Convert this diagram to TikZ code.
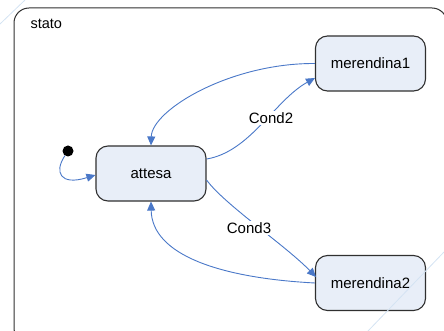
\documentclass[tikz,border=0pt]{standalone}
\usepackage{fontspec}
\setmainfont{Liberation Sans}
\usetikzlibrary{arrows.meta}
\definecolor{edgeblue}{HTML}{4A78C8}
\definecolor{boxfill}{HTML}{E8EEF8}
\definecolor{boxline}{HTML}{303030}
\definecolor{wm}{HTML}{D4E3F3}
\tikzset{
  statebox/.style={draw=boxline, line width=1.1pt, fill=boxfill, rounded corners=12pt,
    minimum width=110pt, minimum height=55pt, inner sep=0pt, font=\fontsize{15pt}{18pt}\selectfont},
  trans/.style={draw=edgeblue, line width=0.9pt, -{Triangle[length=9pt,width=8pt]}},
  lbl/.style={fill=white, inner sep=1.5pt, font=\fontsize{15pt}{18pt}\selectfont},
  wmline/.style={draw=wm, line width=0.8pt}
}
\begin{document}
\begin{tikzpicture}[x=1pt,y=-1pt]
\useasboundingbox (0,0) rectangle (444,331);
\draw[boxline, line width=1pt, rounded corners=15pt] (14,8) rectangle (447,343);
\node[anchor=west, font=\fontsize{14.5pt}{17pt}\selectfont] (title) at (27,24) {stato};
\node[statebox] (attesa) at (151,173.5) {attesa};
\node[statebox] (m1) at (370.5,63.5) {merendina1};
\node[statebox] (m2) at (370.5,283) {merendina2};
\node[circle, fill=black, minimum size=11pt, inner sep=0pt] (init) at (68,151) {};
\coordinate (a2) at (206,159);
\coordinate (a3) at (206,180);
\coordinate (m1in) at (315,78);
\coordinate (m2in) at (316,277);
\draw[trans] (init) .. controls (54,172) and (60,186) .. (attesa.west |- 0,175);
\draw[trans] (attesa.east |- a2) .. controls (250,152) and (275,100) .. (m1in);
\draw[trans] (m1.west) .. controls (230,63) and (152,110) .. (attesa.north);
\draw[trans] (attesa.east |- a3) .. controls (225,205) and (285,245) .. (m2in);
\draw[trans] (m2.west) .. controls (220,278) and (152,255) .. (attesa.south);
\node[lbl] (c2) at (271,118) {Cond2};
\node[lbl] (c3) at (249,228) {Cond3};
\coordinate (w1a) at (0,24);
\coordinate (w1b) at (25,0);
\coordinate (w2a) at (444,252);
\coordinate (w2b) at (368,331);
\draw[wmline] (w1a) -- (w1b);
\draw[wmline] (w2a) -- (w2b);
\end{tikzpicture}
\end{document}
